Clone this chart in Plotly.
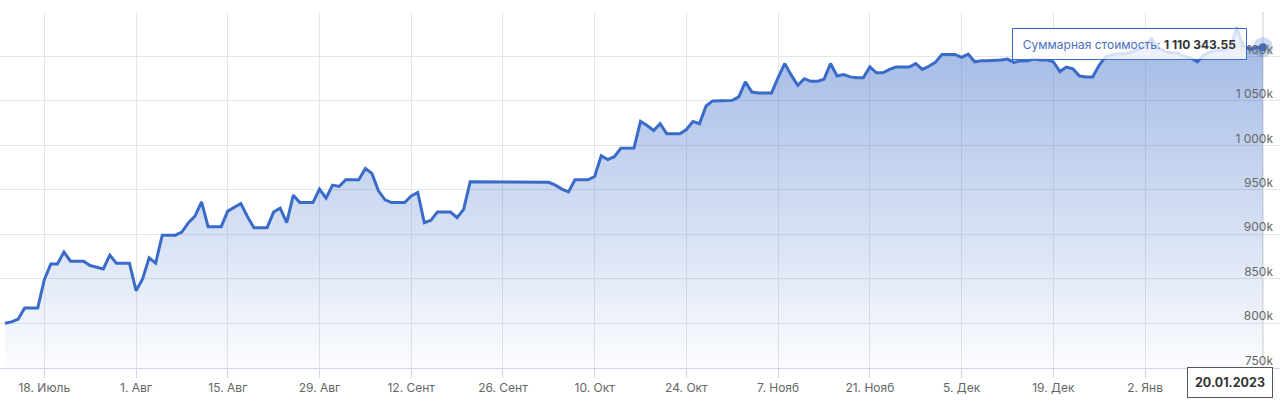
import pandas as pd
import plotly.graph_objects as go

# ---- data ----
start_date = "2022-07-12"
values = [
    800000, 801500, 804500, 817000, 817000, 817000, 849000, 866700, 866700, 880000,
    869700, 869700, 869700, 864800, 862500, 861000, 876500, 867500, 867500, 867500,
    836500, 849800, 873500, 867500, 899000, 899000, 899000, 902500, 913000, 920500,
    936400, 908600, 908600, 908600, 926000, 930000, 934600, 920000, 907400, 907400,
    907400, 925000, 929300, 913000, 944000, 935700, 935700, 935700, 950800, 940600,
    955300, 953800, 961300, 961300, 961300, 974000, 968500, 948800, 938700, 935700,
    935700, 935700, 943000, 947000, 913000, 915700, 925000, 925000, 925000, 918700,
    928000, 959000, 959000, 959000, 959000, 959000, 959000, 959000, 959000, 959000,
    959000, 959000, 959000, 958500, 955300, 950800, 947700, 961300, 961300, 961300,
    965000, 988400, 984000, 987300, 996800, 997000, 997000, 1026900, 1022400, 1016700,
    1024300, 1013000, 1013000, 1013000, 1017800, 1026900, 1024300, 1044300, 1050000, 1050000,
    1050000, 1050600, 1054500, 1071400, 1060000, 1059000, 1059000, 1059000, 1076300, 1092000,
    1079000, 1067600, 1075000, 1072000, 1072000, 1074400, 1092000, 1078000, 1079700, 1077000,
    1076000, 1076000, 1088400, 1081600, 1081600, 1085400, 1088000, 1088000, 1088000, 1092000,
    1085400, 1089000, 1093300, 1102300, 1102300, 1102300, 1099000, 1102700, 1094000, 1095200,
    1095200, 1095200, 1096000, 1097000, 1093300, 1095000, 1095000, 1097000, 1096000, 1096000,
    1094000, 1083000, 1088000, 1086000, 1078000, 1077000, 1077000, 1090000, 1100000, 1102000,
    1103000, 1103000, 1105000, 1108000, 1112000, 1120000, 1110000, 1106000, 1104000, 1104000,
    1100000, 1098000, 1094000, 1102000, 1105000, 1107000, 1107000, 1110000, 1132000, 1112000,
    1108000, 1110000, 1110343.55,
]
dates = pd.date_range(start_date, periods=len(values), freq="D")

tick_dates = ["2022-07-18", "2022-08-01", "2022-08-15", "2022-08-29", "2022-09-12",
              "2022-09-26", "2022-10-10", "2022-10-24", "2022-11-07", "2022-11-21",
              "2022-12-05", "2022-12-19", "2023-01-02", "2023-01-16"]
tick_labels = ["18. Июль", "1. Авг", "15. Авг", "29. Авг", "12. Сент", "26. Сент",
               "10. Окт", "24. Окт", "7. Нояб", "21. Нояб", "5. Дек", "19. Дек",
               "2. Янв", ""]
y_ticks = [750000, 800000, 850000, 900000, 950000, 1000000, 1050000, 1100000, 1150000]
y_labels = ["750k", "800k", "850k", "900k", "950k", "1 000k", "1 050k", "1 100k", ""]

series_name = "Суммарная стоимость"
last_value_text = "1 110 343.55"
last_date_text = "20.01.2023"

# ---- style ----
LINE = "#3a6bc9"
FONT = "Inter"
GRID = "#e6e6e6"

fig = go.Figure()
fig.add_trace(go.Scatter(
    x=dates, y=values, mode="lines",
    line=dict(color=LINE, width=3),
    fill="tozeroy",
    fillgradient=dict(type="vertical", start=750000, stop=1150000,
                      colorscale=[[0, "rgba(58,107,201,0.02)"],
                                  [1, "rgba(58,107,201,0.50)"]]),
    hoverinfo="skip", showlegend=False,
))
fig.add_trace(go.Scatter(
    x=[dates[-1]], y=[values[-1]], mode="markers",
    marker=dict(size=20, color="rgba(58,107,201,0.25)"),
    hoverinfo="skip", showlegend=False,
))
fig.add_trace(go.Scatter(
    x=[dates[-1]], y=[values[-1]], mode="markers",
    marker=dict(size=8, color=LINE),
    hoverinfo="skip", showlegend=False,
))

fig.add_shape(type="line", xref="x", yref="paper",
              x0=dates[-1], x1=dates[-1], y0=0, y1=1,
              line=dict(color="#cccccc", width=1), layer="below")

fig.add_annotation(
    x=dates[-1], y=values[-1], xref="x", yref="y",
    text=f"<span style='color:#4a70c0'>{series_name}: </span><b>{last_value_text}</b>",
    showarrow=True, ax=-133, ay=-3, arrowhead=0, arrowwidth=1,
    arrowcolor=LINE, standoff=10,
    font=dict(family=FONT, size=12, color="#333333"),
    bgcolor="rgba(255,255,255,0.80)", bordercolor=LINE, borderwidth=1,
    borderpad=6, width=221, height=18,
)
fig.add_annotation(
    x=dates[-1], y=0, xref="x", yref="paper",
    text=f"<b>{last_date_text}</b>", showarrow=False,
    xanchor="right", yanchor="top", xshift=10, yshift=1,
    font=dict(family=FONT, size=12.5, color="#333333"),
    bgcolor="#ffffff", bordercolor="#555555", borderwidth=1,
    borderpad=7, width=70,
)

fig.update_layout(
    width=1280, height=411,
    margin=dict(l=0, r=0, t=12, b=43),
    plot_bgcolor="#ffffff", paper_bgcolor="#ffffff",
    font=dict(family=FONT, size=12, color="#666666"),
    hovermode=False,
    xaxis=dict(
        range=["2022-07-11 05:44", "2023-01-22 14:22"],
        tickvals=tick_dates, ticktext=tick_labels,
        showgrid=True, gridcolor=GRID, gridwidth=1,
        showline=True, linecolor="#ccd6eb", linewidth=1,
        ticks="outside", ticklen=9, tickcolor="#ccd6eb",
        tickfont=dict(family=FONT, size=12, color="#666666"),
        zeroline=False, automargin=False, fixedrange=True,
    ),
    yaxis=dict(
        range=[749600, 1150000], side="right",
        tickvals=y_ticks, ticktext=y_labels,
        ticklabelposition="inside", ticklabelshift=-7, ticklabelstandoff=4,
        showgrid=True, gridcolor=GRID, gridwidth=1,
        showline=False, zeroline=False, ticks="",
        tickfont=dict(family=FONT, size=12, color="#666666"),
        automargin=False, fixedrange=True,
    ),
)

fig.write_html(
    "out.html",
    config={"displayModeBar": False},
    post_script="document.body.style.margin='0';document.body.style.overflow='hidden';",
)
